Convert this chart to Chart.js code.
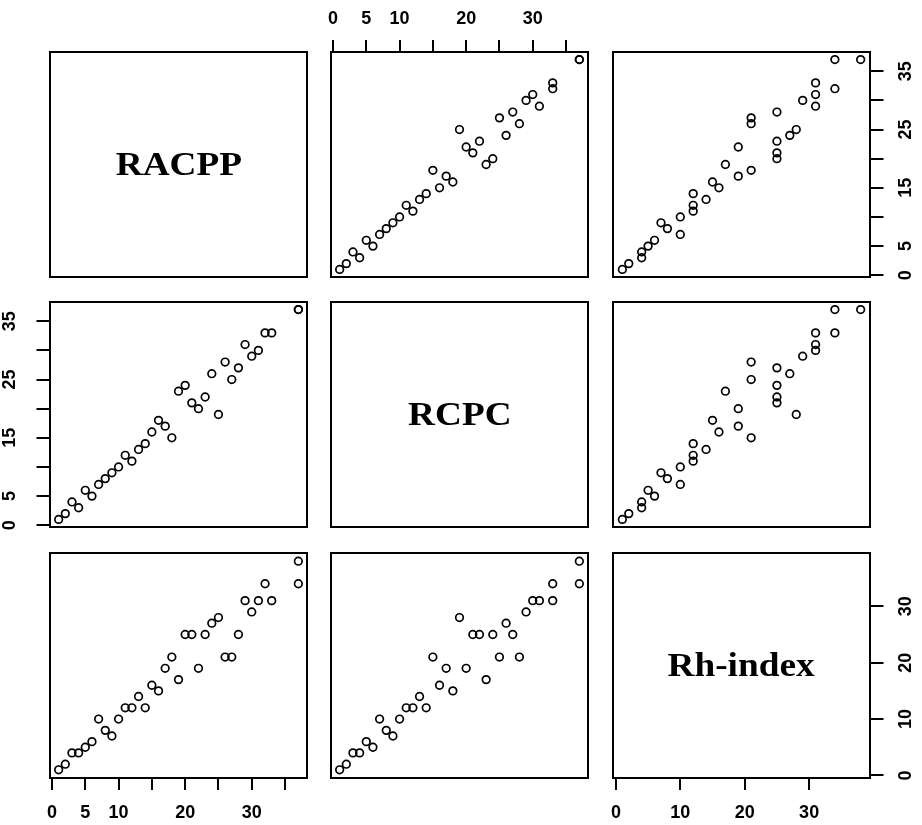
<!DOCTYPE html>
<html>
<head>
<meta charset="utf-8">
<script src="https://cdn.jsdelivr.net/npm/chart.js@4.4.1/dist/chart.umd.min.js"></script>
<style>
  html, body { margin: 0; padding: 0; background: #fff; overflow: hidden; }
  #wrap { position: relative; width: 922px; height: 825px; overflow: hidden; }
  canvas { position: absolute; }
  .lab {
    position: absolute; display: flex; align-items: center; justify-content: center;
    font-family: "Liberation Serif", "Times New Roman", serif; font-weight: bold;
    font-size: 33px; line-height: 1; color: #000;
  }
  .lab span { display: inline-block; transform: scaleX(1.13); }
</style>
</head>
<body>
<div id="wrap"></div>
<script>
// variable names (diagonal)
const names = ['RACPP', 'RCPC', 'Rh-index'];

// ranks per item, same order in every array
const racpp = [1, 2, 3, 4, 5, 6, 7, 8, 9, 10, 11, 12, 13, 14, 15, 16, 17, 18, 19, 20, 21, 22, 23, 24, 25, 26, 27, 28, 29, 30, 31, 32, 33, 37, 37];
const rcpc  = [1, 2, 4, 3, 6, 5, 7, 8, 9, 10, 12, 11, 13, 14, 16, 18, 17, 15, 23, 24, 21, 20, 22, 26, 19, 28, 25, 27, 31, 29, 30, 33, 33, 37, 37];
const rh    = [1, 2, 4, 4, 5, 6, 10, 8, 7, 10, 12, 12, 14, 12, 16, 15, 19, 21, 17, 25, 25, 19, 25, 27, 28, 21, 21, 25, 31, 29, 31, 34, 31, 38, 34];

// tick marks per variable, and which of them carry a printed label
const tickValues = [
  [0, 5, 10, 15, 20, 25, 30, 35],
  [0, 5, 10, 15, 20, 25, 30, 35],
  [0, 10, 20, 30]
];
const xTickLabels = [[0, 5, 10, 20, 30], [0, 5, 10, 20, 30], [0, 10, 20, 30]];
const yTickLabels = [[0, 5, 15, 25, 35], [0, 5, 15, 25, 35], [0, 10, 20, 30]];

const vars = [racpp, rcpc, rh];
const ranges = [[-0.3, 38.3], [-0.3, 38.3], [-0.45, 39.45]];

// panel layout
const colLeft = [50, 331, 613];
const rowTop = [52, 302, 553];
const boxW = 257, boxH = 225, M = 50;

Chart.defaults.font.family = '"Liberation Sans", Arial, sans-serif';
Chart.defaults.color = '#000';

const boxPlugin = {
  id: 'box',
  afterDraw(chart) {
    const { ctx, chartArea: a } = chart;
    ctx.save();
    ctx.strokeStyle = '#000';
    ctx.lineWidth = 2;
    ctx.strokeRect(a.left, a.top, a.right - a.left, a.bottom - a.top);
    ctx.restore();
  }
};

function makeScale(pos, dim, show) {
  const horiz = pos === 'top' || pos === 'bottom';
  const labels = horiz ? xTickLabels[dim] : yTickLabels[dim];
  let pad = 12;
  if (pos === 'top') pad = 10;
  if (pos === 'left') pad = 16;
  if (pos === 'right') pad = 12.5;
  return {
    type: 'linear',
    position: pos,
    display: true,
    min: ranges[dim][0],
    max: ranges[dim][1],
    afterFit: s => { if (horiz) s.height = M; else s.width = M; },
    afterBuildTicks: s => { s.ticks = tickValues[dim].map(v => ({ value: v })); },
    border: { display: false },
    grid: {
      display: show,
      drawOnChartArea: false,
      drawTicks: true,
      tickLength: horiz ? 12 : 13.5,
      color: '#000',
      lineWidth: 2
    },
    ticks: {
      display: show,
      autoSkip: false,
      minRotation: horiz ? 0 : 90,
      maxRotation: horiz ? 0 : 90,
      crossAlign: horiz ? 'near' : 'center',
      padding: pad,
      color: '#000',
      font: { size: 18, weight: 'bold' },
      callback: v => labels.includes(v) ? String(v) : ''
    }
  };
}

const wrap = document.getElementById('wrap');

for (let r = 0; r < 3; r++) {
  for (let c = 0; c < 3; c++) {
    const cv = document.createElement('canvas');
    cv.width = boxW + 2 * M;
    cv.height = boxH + 2 * M;
    cv.style.left = (colLeft[c] - M) + 'px';
    cv.style.top = (rowTop[r] - M) + 'px';
    wrap.appendChild(cv);

    const showTop = r === 0 && c === 1;
    const showBottom = r === 2 && c !== 1;
    const showLeft = c === 0 && r === 1;
    const showRight = c === 2 && r !== 1;

    const pts = r === c ? [] : vars[c].map((v, i) => ({ x: v, y: vars[r][i] }));

    new Chart(cv, {
      type: 'scatter',
      data: {
        datasets: [{
          data: pts,
          pointStyle: 'circle',
          pointRadius: 3.8,
          pointBorderWidth: 1.7,
          borderColor: '#000',
          backgroundColor: 'rgba(0,0,0,0)'
        }]
      },
      options: {
        responsive: false,
        animation: false,
        events: [],
        devicePixelRatio: 1,
        layout: { padding: 0 },
        plugins: { legend: { display: false }, tooltip: { enabled: false } },
        scales: {
          x: makeScale('bottom', c, showBottom),
          xt: makeScale('top', c, showTop),
          y: makeScale('left', r, showLeft),
          yr: makeScale('right', r, showRight)
        }
      },
      plugins: [boxPlugin]
    });

    if (r === c) {
      const lab = document.createElement('div');
      lab.className = 'lab';
      lab.style.left = colLeft[c] + 'px';
      lab.style.top = rowTop[r] + 'px';
      lab.style.width = boxW + 'px';
      lab.style.height = boxH + 'px';
      const sp = document.createElement('span');
      sp.textContent = names[r];
      lab.appendChild(sp);
      wrap.appendChild(lab);
    }
  }
}
</script>
</body>
</html>
